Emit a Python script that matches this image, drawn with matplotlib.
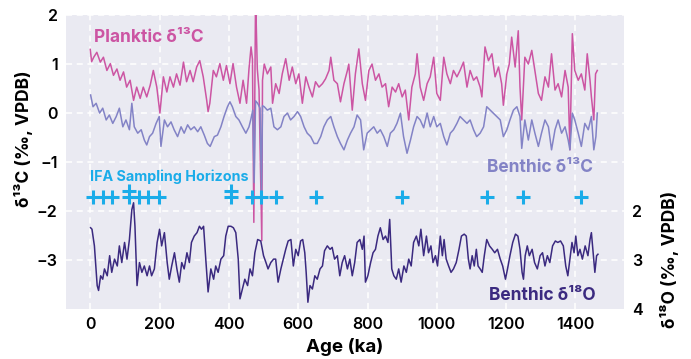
import matplotlib
matplotlib.use("Agg")
import matplotlib.pyplot as plt

plt.rcParams['font.family'] = ['Inter', 'DejaVu Sans']

# planktic d13C (permil VPDB) vs age (ka)
plank_age = [0, 4, 10, 19, 29, 38, 48, 58, 67, 77, 86, 96, 105, 115, 125, 134, 144, 153, 163, 173,
             182, 192, 201, 211, 221, 230, 240, 249, 259, 269, 278, 288, 297, 307, 316, 326, 336, 340, 345, 355,
             364, 374, 384, 393, 403, 412, 422, 432, 441, 451, 458, 464, 468, 472, 477, 482, 487, 495, 497, 502,
             511, 521, 526, 535, 545, 554, 564, 574, 583, 593, 602, 612, 622, 631, 641, 650, 660, 670, 679, 689,
             694, 703, 713, 722, 732, 742, 746, 756, 765, 775, 785, 794, 804, 813, 823, 833, 842, 852, 861, 871,
             881, 890, 900, 909, 919, 928, 938, 943, 952, 962, 972, 981, 991, 1000, 1010, 1020, 1029, 1039, 1048, 1058,
             1067, 1077, 1087, 1096, 1106, 1115, 1125, 1130, 1139, 1149, 1159, 1168, 1178, 1187, 1192, 1202, 1209, 1216, 1226, 1235,
             1240, 1245, 1254, 1264, 1274, 1283, 1293, 1302, 1312, 1322, 1331, 1341, 1350, 1360, 1370, 1379, 1384, 1391, 1398, 1408,
             1417, 1427, 1434, 1442, 1446, 1453, 1458, 1463]
plank_d13c = [1.30, 1.05, 1.14, 1.24, 1.04, 1.14, 0.87, 1.01, 0.77, 0.90, 0.67, 0.84, 0.53, 0.67, 0.26, 0.53, 0.30, 0.53, 0.33, 0.57,
              0.87, 0.53, 0.00, 0.74, 0.43, 0.74, 0.53, 0.80, 0.57, 1.04, 0.64, 0.87, 0.64, 0.94, 1.07, 0.74, 0.26, 0.03, 0.20, 0.87,
              0.74, 1.01, 0.67, 0.97, 0.60, 1.01, 0.53, 0.20, 0.67, 0.20, 0.90, 1.35, 1.10, -2.23, 2.40, 0.90, 0.47, -2.60, 0.67, 1.00,
              0.80, 0.94, 0.20, 0.60, 0.40, 0.80, 1.11, 0.67, 0.94, 0.60, 0.80, 0.20, 0.74, 0.53, 0.33, 0.64, 0.53, 0.60, 0.70, 0.87,
              1.14, 0.67, 0.60, 0.23, 0.60, 0.87, 1.00, 0.06, 0.80, 1.31, 0.60, 0.26, 0.87, 1.00, 0.67, 0.80, 0.53, 0.60, 0.13, 0.53,
              0.43, 0.60, 0.33, 0.47, -0.14, 0.53, 0.80, 1.21, 0.53, 0.26, 0.60, 0.74, 1.14, 0.40, 0.26, 1.14, 0.80, 0.60, 0.87, 0.74,
              0.87, 1.04, 0.53, 0.87, 0.67, 0.74, 0.53, 0.33, 1.35, 1.07, 1.21, 0.74, 0.94, 0.60, 0.16, 0.80, 1.00, 1.55, 0.94, 1.68,
              0.53, -0.14, 1.14, 1.00, 1.28, 0.87, 0.40, 0.26, 0.74, 0.53, 1.21, 0.47, 0.60, 0.33, 0.87, 0.53, -0.75, 1.62, 0.87, 0.67,
              0.80, 0.47, 1.21, 0.67, 0.33, -0.14, 0.80, 0.87]

# benthic d13C
benth_age = [1, 8, 17, 27, 36, 46, 55, 65, 75, 84, 94, 103, 113, 120, 127, 137, 147, 156, 163, 171,
             180, 190, 199, 204, 214, 223, 233, 242, 252, 262, 271, 281, 290, 300, 310, 319, 329, 338, 346, 358,
             367, 377, 386, 396, 403, 410, 420, 429, 439, 449, 458, 463, 469, 473, 477, 483, 490, 494, 497, 502,
             511, 521, 530, 540, 550, 559, 569, 578, 588, 598, 607, 617, 626, 636, 646, 655, 665, 674, 684, 694,
             703, 713, 722, 732, 742, 751, 761, 770, 780, 789, 799, 809, 818, 828, 837, 847, 857, 866, 876, 885,
             895, 904, 914, 924, 933, 943, 952, 962, 972, 981, 991, 1000, 1010, 1020, 1029, 1039, 1048, 1058, 1067, 1077,
             1087, 1096, 1106, 1115, 1125, 1135, 1144, 1154, 1163, 1173, 1183, 1192, 1202, 1211, 1221, 1231, 1240, 1245, 1254, 1264,
             1274, 1283, 1293, 1302, 1312, 1322, 1331, 1341, 1350, 1360, 1370, 1379, 1384, 1391, 1398, 1408, 1417, 1427, 1437, 1446,
             1453, 1459, 1463]
benth_d13c = [0.37, 0.13, 0.20, 0.00, 0.10, -0.14, -0.04, -0.21, -0.07, 0.10, -0.28, -0.14, -0.34, 0.20, -0.28, -0.41, -0.34, -0.55, -0.65, -0.48,
              -0.41, -0.21, -0.07, -0.68, -0.14, -0.28, -0.18, -0.34, -0.48, -0.28, -0.41, -0.24, -0.34, -0.28, -0.38, -0.28, -0.45, -0.62, -0.68, -0.48,
              -0.45, -0.28, -0.07, 0.13, 0.23, 0.13, -0.07, -0.14, -0.28, -0.41, -0.28, -0.14, 0.06, -1.42, 0.25, 0.20, 0.10, -1.63, 0.15, 0.13,
              0.06, 0.10, -0.28, -0.34, -0.28, -0.07, 0.00, -0.14, -0.07, 0.03, -0.07, -0.28, -0.41, -0.48, -0.62, -0.62, -0.48, -0.28, -0.14, -0.07,
              -0.28, -0.48, -0.62, -0.75, -0.55, -0.41, -0.28, -0.04, -0.14, -0.75, -0.41, -0.34, -0.28, -0.41, -0.34, -0.48, -0.68, -0.41, -0.34, -0.21,
              0.00, -0.48, -0.82, -0.55, -0.28, -0.07, -0.14, -0.30, 0.00, -0.28, -0.07, -0.28, -0.21, -0.48, -0.65, -0.41, -0.34, -0.21, -0.07, -0.14,
              -0.21, -0.14, -0.34, -0.48, -0.41, -0.28, 0.13, 0.06, 0.00, -0.07, -0.14, -0.48, -0.34, -0.14, 0.06, 0.13, -0.07, -0.72, -0.14, -0.55,
              -0.14, -0.41, -0.68, -0.41, -0.14, -0.28, -0.75, -0.34, -0.14, -0.41, -0.28, -0.55, -0.75, 0.00, -0.14, -0.41, -0.68, -0.21, -0.34, -0.07,
              -0.75, -0.48, 0.00]

# benthic d18O
o18_age = [1, 5, 12, 20, 24, 30, 36, 41, 49, 56, 62, 70, 78, 84, 91, 99, 106, 113, 120, 125,
           129, 135, 142, 149, 156, 164, 171, 177, 185, 193, 200, 206, 214, 222, 228, 235, 243, 250, 257, 264,
           271, 279, 286, 292, 300, 308, 315, 321, 327, 334, 340, 348, 356, 362, 369, 377, 385, 391, 398, 406,
           413, 420, 427, 432, 439, 446, 454, 461, 468, 475, 483, 492, 500, 507, 513, 521, 529, 535, 542, 550,
           557, 564, 571, 579, 586, 593, 600, 607, 613, 619, 623, 628, 634, 641, 648, 655, 663, 670, 676, 684,
           692, 698, 705, 713, 720, 727, 734, 742, 749, 756, 763, 770, 778, 785, 790, 794, 801, 809, 816, 823,
           830, 837, 845, 852, 859, 864, 870, 876, 883, 890, 897, 905, 912, 919, 926, 933, 941, 948, 954, 962,
           970, 976, 983, 989, 996, 1002, 1010, 1016, 1021, 1027, 1034, 1041, 1048, 1056, 1064, 1071, 1079, 1085, 1091, 1096,
           1102, 1108, 1114, 1119, 1125, 1131, 1137, 1144, 1152, 1160, 1167, 1175, 1183, 1190, 1198, 1204, 1211, 1219, 1227, 1234,
           1240, 1246, 1250, 1255, 1261, 1267, 1275, 1282, 1290, 1298, 1305, 1312, 1319, 1326, 1334, 1342, 1349, 1357, 1365, 1372,
           1378, 1384, 1390, 1396, 1401, 1407, 1413, 1420, 1428, 1436, 1442, 1446, 1451, 1456, 1461, 1465]
o18 = [2.34, 2.37, 2.71, 3.52, 3.62, 3.32, 3.39, 3.18, 3.32, 2.91, 3.25, 2.98, 3.12, 2.71, 3.05, 2.64, 2.98, 2.58, 1.97, 1.83,
       2.31, 3.52, 3.05, 3.25, 3.12, 3.32, 3.12, 3.32, 3.18, 2.64, 2.37, 2.71, 2.44, 3.05, 3.39, 3.12, 2.85, 3.18, 3.45, 3.05,
       3.18, 2.85, 3.05, 2.64, 2.51, 2.44, 2.31, 2.37, 2.31, 3.05, 3.65, 3.18, 3.39, 3.12, 3.25, 2.98, 2.91, 2.51, 2.31, 2.31,
       2.34, 2.44, 2.98, 3.79, 3.59, 3.39, 3.52, 3.18, 3.32, 2.85, 2.58, 2.61, 2.91, 3.05, 3.18, 3.05, 2.98, 2.98, 3.45, 3.18,
       2.98, 2.78, 2.61, 2.58, 3.12, 2.78, 2.91, 2.61, 2.58, 2.85, 3.25, 3.86, 3.52, 3.59, 3.32, 3.39, 3.18, 3.12, 2.81, 2.71,
       2.78, 2.74, 2.98, 2.91, 3.32, 3.05, 2.91, 3.18, 2.98, 3.32, 3.05, 2.64, 2.58, 2.78, 2.51, 3.45, 3.32, 3.05, 2.85, 2.78,
       2.51, 2.34, 2.58, 2.51, 2.64, 2.17, 3.18, 3.32, 3.39, 3.18, 3.45, 3.12, 3.25, 2.98, 3.12, 2.64, 2.51, 2.71, 2.37, 2.91,
       2.51, 2.85, 2.71, 3.05, 2.91, 3.12, 2.51, 2.91, 2.58, 2.98, 3.12, 3.25, 3.18, 3.05, 2.78, 2.51, 2.47, 2.51, 2.98, 3.18,
       2.91, 3.12, 2.78, 3.12, 3.18, 3.25, 2.91, 2.58, 2.71, 2.78, 2.85, 2.78, 2.98, 3.12, 3.39, 3.18, 2.91, 2.64, 2.47, 2.51,
       2.78, 3.25, 3.39, 2.91, 2.71, 2.91, 2.78, 3.05, 3.18, 2.91, 2.85, 3.12, 2.91, 3.05, 2.71, 2.61, 2.64, 2.61, 2.71, 3.12,
       3.32, 2.98, 2.64, 2.85, 2.51, 2.91, 2.78, 2.98, 2.71, 2.91, 2.58, 2.44, 2.85, 3.25, 2.91, 2.88]

# IFA sampling horizons (ka), plotted on the d18O scale
ifa_age = [7, 36, 62, 113, 113, 142, 166, 199, 406, 406, 468, 492, 535, 650, 900, 1144, 1250, 1417]
ifa_lvl = [1.72, 1.72, 1.72, 1.72, 1.6, 1.72, 1.72, 1.72, 1.72, 1.6, 1.72, 1.72, 1.72, 1.72, 1.72, 1.72, 1.72, 1.72]

c_plank = '#cc55a3'
c_benth = '#8383c6'
c_o18 = '#3b2a80'
c_ifa = '#1aace9'

fig = plt.figure(figsize=(6.91, 3.59), dpi=100)
ax = fig.add_axes([0.0955, 0.139, 0.8075, 0.819])
ax.set_facecolor('#eaeaf2')
for s in ax.spines.values():
    s.set_visible(False)

ax.plot(plank_age, plank_d13c, color=c_plank, lw=1.1, zorder=3)
ax.plot(benth_age, benth_d13c, color=c_benth, lw=1.1, zorder=4)

ax.set_xlim(-70, 1540)
ax.set_ylim(-4, 2)
ax.set_xticks(range(0, 1401, 200))
ax.set_yticks([-3, -2, -1, 0, 1, 2])
ax.grid(True, color='white', ls=(0, (4, 3)), lw=1.1, zorder=0)
ax.set_axisbelow(True)
ax.tick_params(length=0, labelsize=11.5, pad=6)
for lab in ax.get_xticklabels() + ax.get_yticklabels():
    lab.set_fontweight('semibold')

ax.set_xlabel('Age (ka)', fontsize=13.5, fontweight='bold', labelpad=4)
ax.set_ylabel('δ¹³C (‰, VPDB)', fontsize=12.5, fontweight='bold')
ax.yaxis.set_label_coords(-0.06, 0.58)

ax2 = ax.twinx()
for s in ax2.spines.values():
    s.set_visible(False)
ax2.plot(o18_age, o18, color=c_o18, lw=1.1, zorder=3)
ax2.plot(ifa_age, ifa_lvl, ls='none', marker='+', ms=10, mew=2.2, color=c_ifa, zorder=5)
ax2.set_ylim(4, -2)
ax2.set_yticks([2, 3, 4])
ax2.tick_params(length=0, labelsize=11.5, pad=6)
for lab in ax2.get_yticklabels():
    lab.set_fontweight('semibold')
ax2.set_ylabel('δ¹⁸O (‰, VPDB)', fontsize=12.5, fontweight='bold')
ax2.yaxis.set_label_coords(1.065, 0.17)

ax.text(10, 1.55, 'Planktic δ¹³C', color=c_plank, fontsize=12.5, fontweight='bold', va='center')
ax.text(1452, -1.12, 'Benthic δ¹³C', color=c_benth, fontsize=12.5, fontweight='bold', va='center', ha='right')
ax.text(-2, -1.3, 'IFA Sampling Horizons', color=c_ifa, fontsize=10.3, fontweight='bold', va='center')
ax.text(1457, -3.73, 'Benthic δ¹⁸O', color=c_o18, fontsize=12.5, fontweight='bold', va='center', ha='right')

fig.savefig('out.png', dpi=100)
